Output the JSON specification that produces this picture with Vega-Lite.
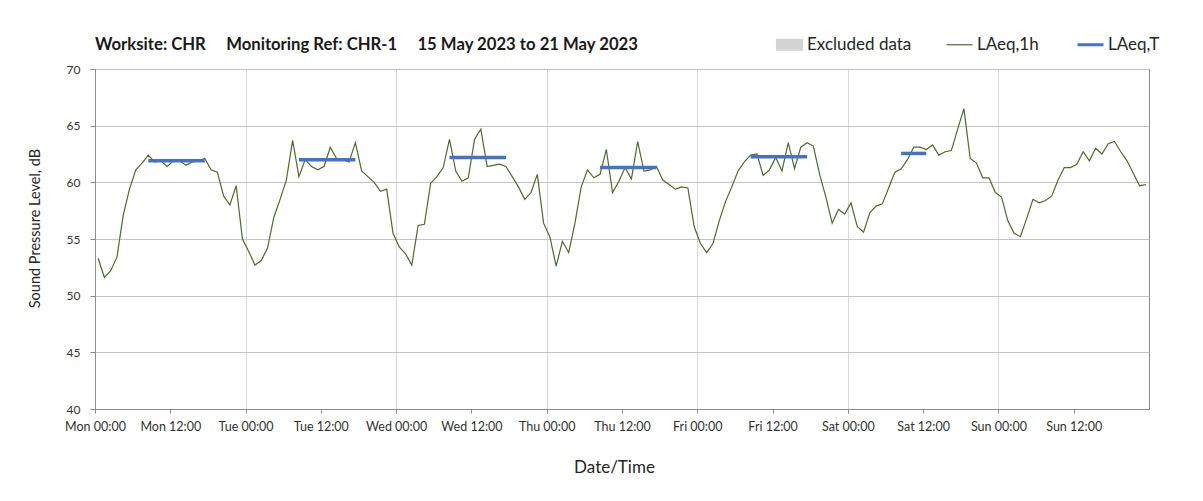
{
  "$schema": "https://vega.github.io/schema/vega-lite/v6.json",
  "width": 1054,
  "height": 340,
  "autosize": {"type": "none"},
  "padding": {"left": 95, "top": 69, "right": 54, "bottom": 92},
  "background": "white",
  "title": {
    "text": "Worksite: CHR\u00a0\u00a0\u00a0\u00a0\u00a0Monitoring Ref: CHR-1\u00a0\u00a0\u00a0\u00a0\u00a015 May 2023 to 21 May 2023",
    "anchor": "start",
    "frame": "group",
    "fontSize": 16.7,
    "fontWeight": "bold",
    "color": "#1a1a1a",
    "offset": -18
  },
  "datasets": {
    "hourly": [
      {"time":"2023-05-15T00:30","laeq":53.3},{"time":"2023-05-15T01:30","laeq":51.6},{"time":"2023-05-15T02:30","laeq":52.2},{"time":"2023-05-15T03:30","laeq":53.4},{"time":"2023-05-15T04:30","laeq":57.1},{"time":"2023-05-15T05:30","laeq":59.4},{"time":"2023-05-15T06:30","laeq":61.1},{"time":"2023-05-15T07:30","laeq":61.7},{"time":"2023-05-15T08:30","laeq":62.4},{"time":"2023-05-15T09:30","laeq":61.8},{"time":"2023-05-15T10:30","laeq":61.9},{"time":"2023-05-15T11:30","laeq":61.4},{"time":"2023-05-15T12:30","laeq":61.9},{"time":"2023-05-15T13:30","laeq":61.9},{"time":"2023-05-15T14:30","laeq":61.5},{"time":"2023-05-15T15:30","laeq":61.8},{"time":"2023-05-15T16:30","laeq":61.9},{"time":"2023-05-15T17:30","laeq":62.1},{"time":"2023-05-15T18:30","laeq":61.1},{"time":"2023-05-15T19:30","laeq":60.9},{"time":"2023-05-15T20:30","laeq":58.8},{"time":"2023-05-15T21:30","laeq":58.0},{"time":"2023-05-15T22:30","laeq":59.7},{"time":"2023-05-15T23:30","laeq":55.0},
      {"time":"2023-05-16T00:30","laeq":53.9},{"time":"2023-05-16T01:30","laeq":52.7},{"time":"2023-05-16T02:30","laeq":53.1},{"time":"2023-05-16T03:30","laeq":54.2},{"time":"2023-05-16T04:30","laeq":56.9},{"time":"2023-05-16T05:30","laeq":58.5},{"time":"2023-05-16T06:30","laeq":60.2},{"time":"2023-05-16T07:30","laeq":63.7},{"time":"2023-05-16T08:30","laeq":60.5},{"time":"2023-05-16T09:30","laeq":62.0},{"time":"2023-05-16T10:30","laeq":61.4},{"time":"2023-05-16T11:30","laeq":61.1},{"time":"2023-05-16T12:30","laeq":61.4},{"time":"2023-05-16T13:30","laeq":63.1},{"time":"2023-05-16T14:30","laeq":62.1},{"time":"2023-05-16T15:30","laeq":62.0},{"time":"2023-05-16T16:30","laeq":61.8},{"time":"2023-05-16T17:30","laeq":63.5},{"time":"2023-05-16T18:30","laeq":61.0},{"time":"2023-05-16T19:30","laeq":60.5},{"time":"2023-05-16T20:30","laeq":60.0},{"time":"2023-05-16T21:30","laeq":59.2},{"time":"2023-05-16T22:30","laeq":59.4},{"time":"2023-05-16T23:30","laeq":55.5},
      {"time":"2023-05-17T00:30","laeq":54.3},{"time":"2023-05-17T01:30","laeq":53.7},{"time":"2023-05-17T02:30","laeq":52.7},{"time":"2023-05-17T03:30","laeq":56.2},{"time":"2023-05-17T04:30","laeq":56.3},{"time":"2023-05-17T05:30","laeq":59.9},{"time":"2023-05-17T06:30","laeq":60.5},{"time":"2023-05-17T07:30","laeq":61.3},{"time":"2023-05-17T08:30","laeq":63.8},{"time":"2023-05-17T09:30","laeq":61.0},{"time":"2023-05-17T10:30","laeq":60.1},{"time":"2023-05-17T11:30","laeq":60.4},{"time":"2023-05-17T12:30","laeq":63.8},{"time":"2023-05-17T13:30","laeq":64.7},{"time":"2023-05-17T14:30","laeq":61.4},{"time":"2023-05-17T15:30","laeq":61.5},{"time":"2023-05-17T16:30","laeq":61.6},{"time":"2023-05-17T17:30","laeq":61.4},{"time":"2023-05-17T18:30","laeq":60.5},{"time":"2023-05-17T19:30","laeq":59.6},{"time":"2023-05-17T20:30","laeq":58.5},{"time":"2023-05-17T21:30","laeq":59.1},{"time":"2023-05-17T22:30","laeq":60.7},{"time":"2023-05-17T23:30","laeq":56.4},
      {"time":"2023-05-18T00:30","laeq":55.2},{"time":"2023-05-18T01:30","laeq":52.6},{"time":"2023-05-18T02:30","laeq":54.8},{"time":"2023-05-18T03:30","laeq":53.8},{"time":"2023-05-18T04:30","laeq":56.4},{"time":"2023-05-18T05:30","laeq":59.6},{"time":"2023-05-18T06:30","laeq":61.1},{"time":"2023-05-18T07:30","laeq":60.4},{"time":"2023-05-18T08:30","laeq":60.7},{"time":"2023-05-18T09:30","laeq":62.9},{"time":"2023-05-18T10:30","laeq":59.1},{"time":"2023-05-18T11:30","laeq":60.1},{"time":"2023-05-18T12:30","laeq":61.3},{"time":"2023-05-18T13:30","laeq":60.3},{"time":"2023-05-18T14:30","laeq":63.6},{"time":"2023-05-18T15:30","laeq":61.0},{"time":"2023-05-18T16:30","laeq":61.1},{"time":"2023-05-18T17:30","laeq":61.4},{"time":"2023-05-18T18:30","laeq":60.2},{"time":"2023-05-18T19:30","laeq":59.8},{"time":"2023-05-18T20:30","laeq":59.4},{"time":"2023-05-18T21:30","laeq":59.6},{"time":"2023-05-18T22:30","laeq":59.5},{"time":"2023-05-18T23:30","laeq":56.1},
      {"time":"2023-05-19T00:30","laeq":54.6},{"time":"2023-05-19T01:30","laeq":53.8},{"time":"2023-05-19T02:30","laeq":54.6},{"time":"2023-05-19T03:30","laeq":56.6},{"time":"2023-05-19T04:30","laeq":58.3},{"time":"2023-05-19T05:30","laeq":59.6},{"time":"2023-05-19T06:30","laeq":61.0},{"time":"2023-05-19T07:30","laeq":61.8},{"time":"2023-05-19T08:30","laeq":62.4},{"time":"2023-05-19T09:30","laeq":62.5},{"time":"2023-05-19T10:30","laeq":60.6},{"time":"2023-05-19T11:30","laeq":61.1},{"time":"2023-05-19T12:30","laeq":62.2},{"time":"2023-05-19T13:30","laeq":61.0},{"time":"2023-05-19T14:30","laeq":63.5},{"time":"2023-05-19T15:30","laeq":61.2},{"time":"2023-05-19T16:30","laeq":63.1},{"time":"2023-05-19T17:30","laeq":63.5},{"time":"2023-05-19T18:30","laeq":63.2},{"time":"2023-05-19T19:30","laeq":60.7},{"time":"2023-05-19T20:30","laeq":58.7},{"time":"2023-05-19T21:30","laeq":56.4},{"time":"2023-05-19T22:30","laeq":57.6},{"time":"2023-05-19T23:30","laeq":57.2},
      {"time":"2023-05-20T00:30","laeq":58.2},{"time":"2023-05-20T01:30","laeq":56.1},{"time":"2023-05-20T02:30","laeq":55.6},{"time":"2023-05-20T03:30","laeq":57.3},{"time":"2023-05-20T04:30","laeq":57.9},{"time":"2023-05-20T05:30","laeq":58.1},{"time":"2023-05-20T06:30","laeq":59.5},{"time":"2023-05-20T07:30","laeq":60.9},{"time":"2023-05-20T08:30","laeq":61.2},{"time":"2023-05-20T09:30","laeq":62.0},{"time":"2023-05-20T10:30","laeq":63.1},{"time":"2023-05-20T11:30","laeq":63.1},{"time":"2023-05-20T12:30","laeq":62.9},{"time":"2023-05-20T13:30","laeq":63.3},{"time":"2023-05-20T14:30","laeq":62.4},{"time":"2023-05-20T15:30","laeq":62.7},{"time":"2023-05-20T16:30","laeq":62.8},{"time":"2023-05-20T17:30","laeq":64.7},{"time":"2023-05-20T18:30","laeq":66.5},{"time":"2023-05-20T19:30","laeq":62.1},{"time":"2023-05-20T20:30","laeq":61.7},{"time":"2023-05-20T21:30","laeq":60.4},{"time":"2023-05-20T22:30","laeq":60.4},{"time":"2023-05-20T23:30","laeq":59.1},
      {"time":"2023-05-21T00:30","laeq":58.7},{"time":"2023-05-21T01:30","laeq":56.6},{"time":"2023-05-21T02:30","laeq":55.5},{"time":"2023-05-21T03:30","laeq":55.2},{"time":"2023-05-21T04:30","laeq":56.8},{"time":"2023-05-21T05:30","laeq":58.5},{"time":"2023-05-21T06:30","laeq":58.2},{"time":"2023-05-21T07:30","laeq":58.4},{"time":"2023-05-21T08:30","laeq":58.8},{"time":"2023-05-21T09:30","laeq":60.2},{"time":"2023-05-21T10:30","laeq":61.3},{"time":"2023-05-21T11:30","laeq":61.3},{"time":"2023-05-21T12:30","laeq":61.6},{"time":"2023-05-21T13:30","laeq":62.7},{"time":"2023-05-21T14:30","laeq":61.9},{"time":"2023-05-21T15:30","laeq":63.0},{"time":"2023-05-21T16:30","laeq":62.5},{"time":"2023-05-21T17:30","laeq":63.4},{"time":"2023-05-21T18:30","laeq":63.6},{"time":"2023-05-21T19:30","laeq":62.7},{"time":"2023-05-21T20:30","laeq":61.9},{"time":"2023-05-21T21:30","laeq":60.8},{"time":"2023-05-21T22:30","laeq":59.7},{"time":"2023-05-21T23:30","laeq":59.8}
    ],
    "periods": [
      {"day":"Mon","time":"2023-05-15T08:30","laeq_t":61.9},{"day":"Mon","time":"2023-05-15T17:30","laeq_t":61.9},
      {"day":"Tue","time":"2023-05-16T08:30","laeq_t":62.0},{"day":"Tue","time":"2023-05-16T17:30","laeq_t":62.0},
      {"day":"Wed","time":"2023-05-17T08:30","laeq_t":62.2},{"day":"Wed","time":"2023-05-17T17:30","laeq_t":62.2},
      {"day":"Thu","time":"2023-05-18T08:30","laeq_t":61.3},{"day":"Thu","time":"2023-05-18T17:30","laeq_t":61.3},
      {"day":"Fri","time":"2023-05-19T08:30","laeq_t":62.25},{"day":"Fri","time":"2023-05-19T17:30","laeq_t":62.25},
      {"day":"Sat","time":"2023-05-20T08:30","laeq_t":62.55},{"day":"Sat","time":"2023-05-20T12:30","laeq_t":62.55}
    ]
  },
  "encoding": {
    "x": {
      "field": "time",
      "type": "temporal",
      "scale": {
        "type": "time",
        "nice": false,
        "domain": [
          {"year": 2023, "month": 5, "date": 15, "hours": 0},
          {"year": 2023, "month": 5, "date": 22, "hours": 0}
        ]
      },
      "axis": {
        "title": "Date/Time",
        "format": "%a %H:%M",
        "values": [
          {"year": 2023, "month": 5, "date": 15, "hours": 0},
          {"year": 2023, "month": 5, "date": 15, "hours": 12},
          {"year": 2023, "month": 5, "date": 16, "hours": 0},
          {"year": 2023, "month": 5, "date": 16, "hours": 12},
          {"year": 2023, "month": 5, "date": 17, "hours": 0},
          {"year": 2023, "month": 5, "date": 17, "hours": 12},
          {"year": 2023, "month": 5, "date": 18, "hours": 0},
          {"year": 2023, "month": 5, "date": 18, "hours": 12},
          {"year": 2023, "month": 5, "date": 19, "hours": 0},
          {"year": 2023, "month": 5, "date": 19, "hours": 12},
          {"year": 2023, "month": 5, "date": 20, "hours": 0},
          {"year": 2023, "month": 5, "date": 20, "hours": 12},
          {"year": 2023, "month": 5, "date": 21, "hours": 0},
          {"year": 2023, "month": 5, "date": 21, "hours": 12}
        ],
        "labelOverlap": false,
        "labelFlush": false,
        "labelFontSize": 12.5,
        "labelColor": "#333333",
        "labelPadding": 7,
        "tickSize": 4,
        "tickColor": "#8c8c8c",
        "domainColor": "#8c8c8c",
        "grid": true,
        "gridColor": "#d9d9d9",
        "gridOpacity": {"condition": {"test": "hours(datum.value) === 12", "value": 0}, "value": 1},
        "titleFontSize": 17,
        "titleFontWeight": "normal",
        "titleColor": "#262626",
        "titleX": 519,
        "titleY": 58,
        "titleBaseline": "middle"
      }
    }
  },
  "layer": [
    {
      "data": {"name": "hourly"},
      "mark": {"type": "line", "strokeWidth": 1.2},
      "encoding": {
        "y": {
          "field": "laeq",
          "type": "quantitative",
          "scale": {"domain": [40, 70], "nice": false, "zero": false},
          "axis": {
            "title": "Sound Pressure Level, dB",
            "values": [40, 45, 50, 55, 60, 65, 70],
            "labelFontSize": 12,
            "labelColor": "#333333",
            "labelPadding": 10,
            "tickSize": 5,
            "tickColor": "#8c8c8c",
            "domainColor": "#8c8c8c",
            "gridColor": "#c4c4c4",
            "titleFontSize": 14.5,
            "titleFontWeight": "normal",
            "titleColor": "#262626",
            "titleX": -60,
            "titleY": 159,
            "titleBaseline": "middle"
          }
        },
        "color": {
          "datum": "LAeq,1h",
          "type": "nominal",
          "scale": {
            "domain": ["Excluded data", "LAeq,1h", "LAeq,T"],
            "range": ["#d3d3d3", "#4f6a2e", "#4472c4"]
          },
          "legend": {
            "title": null,
            "orient": "none",
            "legendX": 686,
            "legendY": -33,
            "direction": "horizontal",
            "padding": 0,
            "symbolSize": 676,
            "labelFontSize": 17,
            "labelColor": "#262626",
            "labelOffset": 9,
            "columnPadding": 32,
            "encode": {
              "symbols": {
                "update": {
                  "shape": {"signal": "datum.label === 'Excluded data' ? 'M-1,-0.42H1V0.42H-1Z' : 'M-1,0H1'"},
                  "fill": {"signal": "datum.label === 'Excluded data' ? '#d3d3d3' : 'transparent'"},
                  "stroke": {"signal": "datum.label === 'LAeq,T' ? '#4472c4' : (datum.label === 'LAeq,1h' ? '#4f6a2e' : 'transparent')"},
                  "strokeWidth": {"signal": "datum.label === 'LAeq,T' ? 3 : 1.2"},
                  "opacity": {"value": 1}
                }
              }
            }
          }
        }
      }
    },
    {
      "data": {"name": "periods"},
      "mark": {"type": "line", "strokeWidth": 3.5, "strokeCap": "butt"},
      "encoding": {
        "y": {"field": "laeq_t", "type": "quantitative"},
        "detail": {"field": "day"},
        "color": {"datum": "LAeq,T", "type": "nominal"}
      }
    }
  ],
  "resolve": {"scale": {"color": "shared"}},
  "config": {
    "font": "Lato",
    "view": {"stroke": "#8c8c8c"},
    "axis": {"labelFont": "Lato", "titleFont": "Lato"}
  }
}
